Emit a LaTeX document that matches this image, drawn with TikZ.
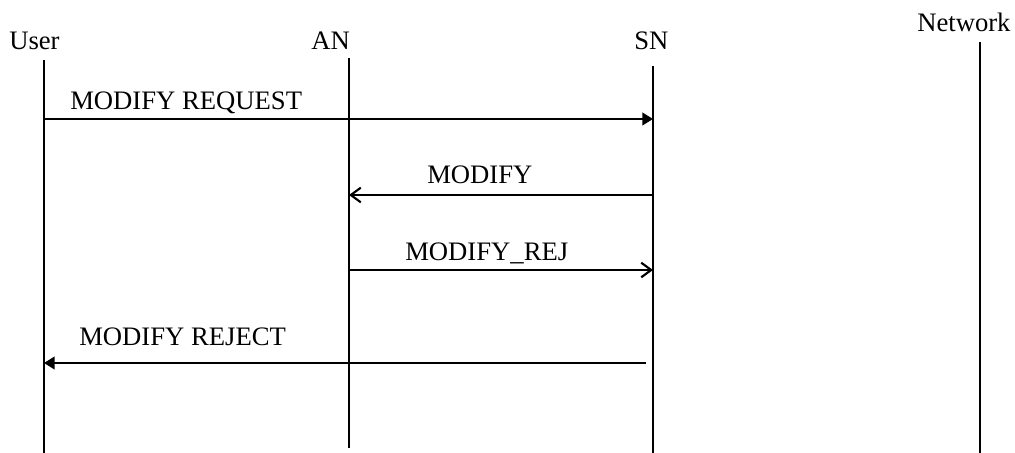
\documentclass[tikz,border=0pt]{standalone}
\usepackage{fontspec}
\setmainfont{Liberation Serif}
\usetikzlibrary{arrows.meta, positioning, calc}
\tikzset{
    lifeline/.style={line width=1.6pt, line cap=butt},
    msgfilled/.style={line width=1.6pt, -{Triangle[length=8pt, width=9.5pt]}},
    msgopen/.style={line width=1.6pt, -{Straight Barb[length=7.5pt, width=11pt, line width=1.6pt]}},
    lbl/.style={inner sep=0pt, anchor=base west, font=\fontsize{20}{23}\selectfont}
}

\begin{document}
\begin{tikzpicture}[x=0.75pt, y=-0.75pt]
    \useasboundingbox (0,0) rectangle (1015,453);

    % Lifelines
    \coordinate (usertop) at (44,60);   \coordinate (userbot) at (44,453);
    \coordinate (antop) at (349,58);    \coordinate (anbot) at (349,448);
    \coordinate (sntop) at (653,66);    \coordinate (snbot) at (653,453);
    \coordinate (nettop) at (980,42);   \coordinate (netbot) at (980,453);
    \foreach \p in {user, an, sn, net} {
        \draw[lifeline] (\p top) -- (\p bot);
    }

    % Entity labels
    \node[lbl] (userlbl) at (9,50) {User};
    \node[lbl] (anlbl) at (311,50) {AN};
    \node[lbl] (snlbl) at (634,50) {SN};
    \node[lbl] (netlbl) at (917,32) {Network};

    % Message end points
    \coordinate (req1) at (44,119);   \coordinate (req2) at (653,119);
    \coordinate (mod1) at (653,195);  \coordinate (mod2) at (349,195);
    \coordinate (rej1) at (349,270);  \coordinate (rej2) at (653,270);
    \coordinate (rjt1) at (646,363);  \coordinate (rjt2) at (44,363);

    % Messages
    \draw[msgfilled] (req1) -- (req2);
    \node[lbl] (reqlbl) at (70,110) {MODIFY REQUEST};

    \draw[msgopen] (mod1) -- (mod2);
    \node[lbl] (modlbl) at (427,183) {MODIFY};

    \draw[msgopen] (rej1) -- (rej2);
    \node[lbl] (rejlbl) at (405,260) {MODIFY\_REJ};

    \draw[msgfilled] (rjt1) -- (rjt2);
    \node[lbl] (rjtlbl) at (79,345) {MODIFY REJECT};
\end{tikzpicture}
\end{document}
